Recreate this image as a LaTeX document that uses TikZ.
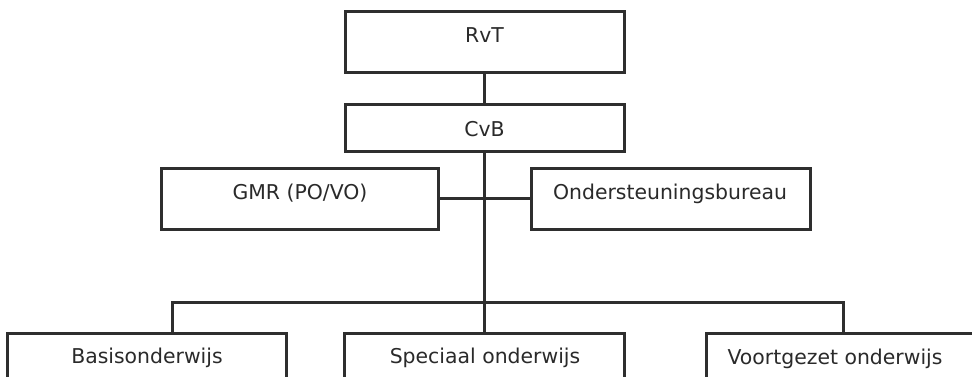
\documentclass[tikz,border=0pt]{standalone}
\usepackage{fontspec}
\setmainfont{DejaVu Sans}
\definecolor{linec}{HTML}{2E2E2E}
\definecolor{textc}{HTML}{2A2A2A}
\begin{document}
\begin{tikzpicture}[x=0.5pt,y=-0.5pt,
  box/.style={draw=linec, line width=1.5pt, rectangle, inner sep=0pt, fill=white},
  lbl/.style={font=\fontsize{10.2}{12}\selectfont, text=textc, inner sep=0pt, anchor=base},
  conn/.style={draw=linec, line width=1.5pt}]
\useasboundingbox (0,0) rectangle (972,376);
\clip (0,0) rectangle (972,376);
\fill[white] (0,0) rectangle (972,376);
% boxes
\node[box, minimum width=139.5pt, minimum height=30.5pt] (rvt) at (484.5,41.5) {};
\node[box, minimum width=139.5pt, minimum height=23.5pt] (cvb) at (484.5,127.5) {};
\node[box, minimum width=138.5pt, minimum height=30.5pt] (gmr) at (299.5,198.5) {};
\node[box, minimum width=139.5pt, minimum height=30.5pt] (ond) at (670.5,198.5) {};
\node[box, minimum width=139.5pt, minimum height=33.5pt] (bas) at (146.5,366.5) {};
\node[box, minimum width=140pt, minimum height=33.5pt] (spe) at (484,366.5) {};
\node[box, minimum width=140pt, minimum height=33.5pt] (voo) at (846,366.5) {};
% labels
\node[lbl] (trvt) at (484.5,42) {RvT};
\node[lbl] (tcvb) at (484.5,136) {CvB};
\node[lbl] (tgmr) at (300,199) {GMR (PO/VO)};
\node[lbl] (tond) at (670,199.5) {Ondersteuningsbureau};
\node[lbl] (tbas) at (147,363.5) {Basisonderwijs};
\node[lbl] (tspe) at (485,363.5) {Speciaal onderwijs};
\node[lbl] (tvoo) at (835,364) {Voortgezet onderwijs};
% connectors
\coordinate (tl) at (172,302);
\coordinate (tr) at (843,302);
\draw[conn] (rvt.south) -- (cvb.north);
\draw[conn] (cvb.south) -- (cvb.south |- spe.north);
\draw[conn] (gmr.east) -- (ond.west);
\draw[conn] (bas.north -| tl) -- (tl) -- (tr) -- (voo.north -| tr);
\end{tikzpicture}
\end{document}
